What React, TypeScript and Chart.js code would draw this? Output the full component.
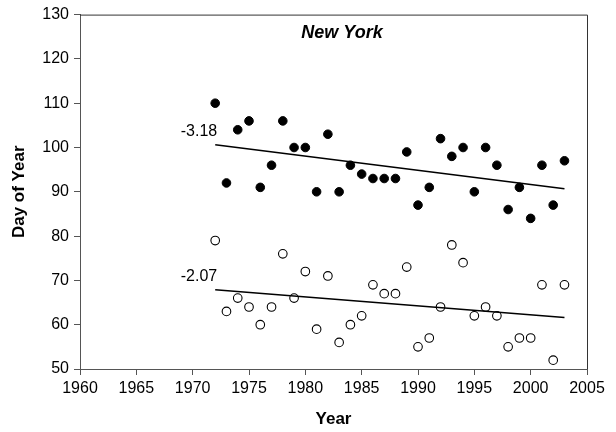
import React, { useEffect, useRef } from "react";
import { Chart, registerables } from "chart.js";

Chart.register(...registerables);

const years = [1972, 1973, 1974, 1975, 1976, 1977, 1978, 1979, 1980, 1981, 1982, 1983, 1984, 1985, 1986, 1987, 1988, 1989, 1990, 1991, 1992, 1993, 1994, 1995, 1996, 1997, 1998, 1999, 2000, 2001, 2002, 2003];
const filledValues = [110, 92, 104, 106, 91, 96, 106, 100, 100, 90, 103, 90, 96, 94, 93, 93, 93, 99, 87, 91, 102, 98, 100, 90, 100, 96, 86, 91, 84, 96, 87, 97];
const openValues = [79, 63, 66, 64, 60, 64, 76, 66, 72, 59, 71, 56, 60, 62, 69, 67, 67, 73, 55, 57, 64, 78, 74, 62, 64, 62, 55, 57, 57, 69, 52, 69];
const trendYears = [1972, 2003];
const filledTrend = [100.6, 90.7];
const openTrend = [67.9, 61.6];
const trendLabels = ["-3.18", "-2.07"];
const chartTitle = "New York";
const xTitle = "Year";
const yTitle = "Day of Year";

const FONT = "'Liberation Sans', Arial, sans-serif";

export default function App() {
  const ref = useRef<HTMLCanvasElement>(null);
  useEffect(() => {
    if (!ref.current) return;
    const overlay = {
      id: "overlay",
      beforeDatasetsDraw(chart: any) {
        const { ctx, chartArea } = chart;
        ctx.save();
        ctx.strokeStyle = "#333";
        ctx.lineWidth = 1;
        ctx.beginPath();
        ctx.moveTo(chartArea.left, chartArea.top + 0.5);
        ctx.lineTo(chartArea.right + 0.5, chartArea.top + 0.5);
        ctx.lineTo(chartArea.right + 0.5, chartArea.bottom);
        ctx.stroke();
        ctx.restore();
      },
      afterDatasetsDraw(chart: any) {
        const { ctx, chartArea, scales } = chart;
        ctx.save();
        ctx.fillStyle = "#000";
        ctx.font = `bold italic 18px ${FONT}`;
        ctx.textAlign = "center";
        ctx.textBaseline = "middle";
        ctx.fillText(chartTitle, chartArea.left + 262, chartArea.top + 18);
        ctx.font = `16px ${FONT}`;
        ctx.textAlign = "right";
        const starts = [filledTrend[0], openTrend[0]];
        starts.forEach((v, i) => {
          const x = scales.x.getPixelForValue(trendYears[0]) + 2;
          const y = scales.y.getPixelForValue(v) - 13;
          ctx.fillText(trendLabels[i], x, y);
        });
        ctx.restore();
      },
    };
    const chart = new Chart(ref.current, {
      type: "scatter",
      data: {
        datasets: [
          {
            label: "filled trend",
            type: "line",
            data: trendYears.map((x, i) => ({ x, y: filledTrend[i] })),
            borderColor: "#000",
            borderWidth: 1.5,
            pointRadius: 0,
            showLine: true,
          } as any,
          {
            label: "open trend",
            type: "line",
            data: trendYears.map((x, i) => ({ x, y: openTrend[i] })),
            borderColor: "#000",
            borderWidth: 1.5,
            pointRadius: 0,
            showLine: true,
          } as any,
          {
            label: "filled",
            data: years.map((x, i) => ({ x, y: filledValues[i] })),
            backgroundColor: "#000",
            borderColor: "#000",
            borderWidth: 1,
            pointRadius: 4.3,
          },
          {
            label: "open",
            data: years.map((x, i) => ({ x, y: openValues[i] })),
            backgroundColor: "#fff",
            borderColor: "#000",
            borderWidth: 1.1,
            pointRadius: 4.3,
          },
        ],
      },
      options: {
        animation: false,
        responsive: false,
        layout: { padding: { top: 14, right: 29, left: 0, bottom: 0 } },
        plugins: { legend: { display: false }, tooltip: { enabled: false } },
        scales: {
          x: {
            type: "linear",
            min: 1960,
            max: 2005,
            afterFit: (s: any) => { s.height = 63; },
            ticks: {
              stepSize: 5,
              callback: (v: any) => String(v),
              color: "#000",
              font: { family: FONT, size: 16 },
              padding: 4,
              maxRotation: 0,
            },
            grid: { drawOnChartArea: false, drawTicks: true, tickLength: 6, tickColor: "#555" },
            border: { display: true, color: "#555", width: 1 },
            title: {
              display: true,
              text: xTitle,
              color: "#000",
              font: { family: FONT, size: 17, weight: "bold" },
              padding: { top: 0, bottom: 2 },
            },
          },
          y: {
            min: 50,
            max: 130,
            afterFit: (s: any) => { s.width = 80; },
            ticks: {
              stepSize: 10,
              color: "#000",
              font: { family: FONT, size: 16 },
              padding: 5,
            },
            grid: { drawOnChartArea: false, drawTicks: true, tickLength: 6, tickColor: "#555" },
            border: { display: true, color: "#555", width: 1 },
            title: {
              display: true,
              text: yTitle,
              color: "#000",
              font: { family: FONT, size: 17, weight: "bold" },
              padding: { top: 9, bottom: 0 },
            },
          },
        },
      },
      plugins: [overlay],
    });
    return () => chart.destroy();
  }, []);
  return (
    <div style={{ position: "fixed", left: 0, top: 0, width: 616, height: 432, background: "#fff" }}>
      <canvas ref={ref} width={616} height={432} />
    </div>
  );
}
